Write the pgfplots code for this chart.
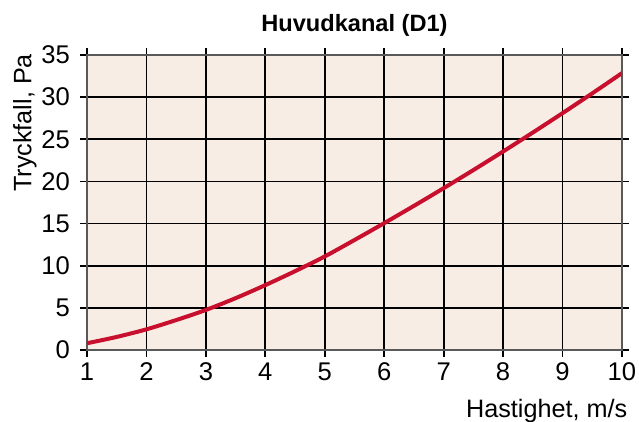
\documentclass[border=0pt]{standalone}
\usepackage{pgfplots}
\pgfplotsset{compat=1.18}
\usepackage{fontspec}
\setmainfont{Liberation Sans}
\definecolor{bgc}{RGB}{248,237,228}
\definecolor{curvec}{RGB}{200,16,46}
\begin{document}
\begin{tikzpicture}[x=1pt,y=1pt]
\useasboundingbox (-43.5,-36) rectangle (276,175);
\begin{axis}[
  at={(0,0)}, anchor=south west,
  scale only axis, width=267.5pt, height=147.5pt,
  xmin=1, xmax=10, ymin=0, ymax=35,
  xtick={1,...,10}, ytick={0,5,...,35},
  grid=major,
  grid style={black, line width=0.9pt},
  axis line style={black!65, line width=0.9pt},
  axis background/.style={fill=bgc},
  tick align=outside, tick style={black, line width=0.9pt}, major tick length=3.5pt,
  every tick label/.append style={font=\fontsize{12.8}{14}\selectfont},
  /pgf/number format/assume math mode=true,
  yticklabel style={xshift=-1.5pt},
  xticklabel style={yshift=0.5pt},
  every axis title shift=0pt,
  title={\bfseries Huvudkanal (D1)},
  title style={font=\fontsize{11.8}{13}\selectfont, at={(axis description cs:0.5,1.10)}, anchor=center},
  xlabel={Hastighet, m/s},
  xlabel style={font=\fontsize{12.6}{14}\selectfont, at={(axis description cs:1.023,-0.206)}, anchor=east},
  ylabel={Tryckfall, Pa},
  ylabel style={font=\fontsize{12.6}{14}\selectfont, at={(axis description cs:-0.116,1.027)}, anchor=east, rotate=0},
]
\addplot[curvec, line width=2pt, smooth] coordinates {
(1,0.8) (1.5,1.55) (2,2.45) (2.5,3.55) (3,4.75) (3.5,6.15) (4,7.7) (4.5,9.35) (5,11.1)
(5.5,13.05) (6,15.05) (6.5,17.1) (7,19.2) (7.5,21.35) (8,23.55) (8.5,25.8) (9,28.1)
(9.5,30.45) (10,32.85)
};
\end{axis}
\end{tikzpicture}
\end{document}
